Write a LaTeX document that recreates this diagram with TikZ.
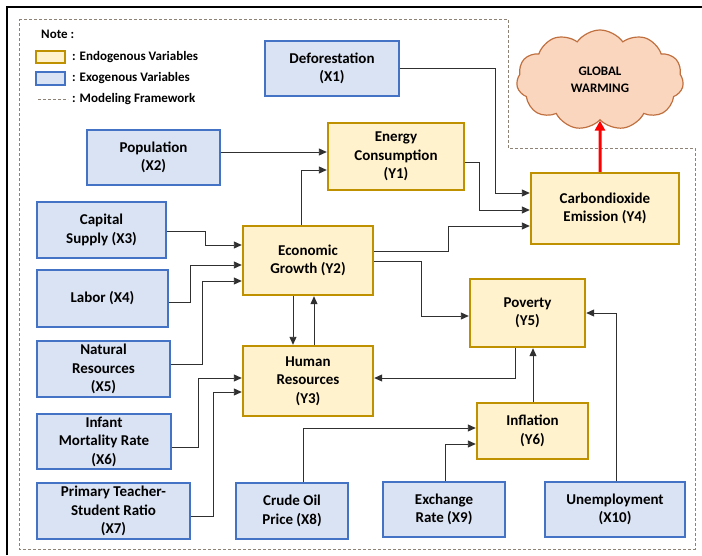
\documentclass[tikz,border=0pt]{standalone}
\usepackage{fontspec}
\setmainfont{Carlito}
\usetikzlibrary{arrows.meta,shapes.symbols}
\definecolor{endofill}{HTML}{FFF2CC}
\definecolor{endodraw}{HTML}{BF9000}
\definecolor{exofill}{HTML}{DAE3F3}
\definecolor{exodraw}{HTML}{4472C4}
\definecolor{cloudfill}{HTML}{FAD6BF}
\definecolor{clouddraw}{HTML}{C0703F}
\definecolor{framecol}{HTML}{8C8275}
\definecolor{linecol}{HTML}{303030}
\begin{document}
\begin{tikzpicture}[x=1pt,y=-1pt,
  every node/.style={font=\bfseries\fontsize{15}{18.5}\selectfont,align=center,inner sep=1pt},
  endo/.style={draw=endodraw,fill=endofill,line width=2.4pt},
  exo/.style={draw=exodraw,fill=exofill,line width=1.4pt},
  arr/.style={draw=linecol,line width=0.9pt,-{Triangle[length=8pt,width=7pt]}},
  frame/.style={draw=framecol,line width=0.9pt,dash pattern=on 3pt off 2pt},
  legtext/.style={font=\bfseries\fontsize{13}{15}\selectfont,anchor=west}]
  \useasboundingbox (0,0) rectangle (702,555);
  \draw[line width=2pt] (7,555) -- (7,7) -- (702,7);
  \draw[frame] (19,19) -- (508,19) -- (508,148) -- (695,148) -- (695,549) -- (19,549) -- cycle;
  % legend
  \node[legtext] (note) at (40,34) {Note :};
  \draw[endo,line width=2pt] (36,51) rectangle (65,63);
  \draw[exo] (36,72) rectangle (65,85);
  \draw[frame] (38,99) -- (68,99);
  \node[legtext] (lgendo) at (71,57) {: Endogenous Variables};
  \node[legtext] (lgexo) at (71,78) {: Exogenous Variables};
  \node[legtext] (lgframe) at (71,99) {: Modeling Framework};
  % exogenous
  \node[exo,minimum width=134,minimum height=55] (x1) at (332,68.5) {Deforestation\\(X1)};
  \node[exo,minimum width=133,minimum height=55] (x2) at (153.5,157.5) {Population\\(X2)};
  \node[exo,minimum width=129,minimum height=56] (x3) at (101.5,230) {Capital\\Supply (X3)};
  \node[exo,minimum width=131,minimum height=57] (x4) at (102.5,298.5) {Labor (X4)};
  \node[exo,minimum width=133,minimum height=56] (x5) at (103.5,369) {Natural\\Resources\\(X5)};
  \node[exo,minimum width=134,minimum height=55] (x6) at (104,441.5) {Infant\\Mortality Rate\\(X6)};
  \node[exo,minimum width=153,minimum height=56] (x7) at (113.5,511) {Primary Teacher-\\Student Ratio\\(X7)};
  \node[exo,minimum width=112,minimum height=56] (x8) at (292,511) {Crude Oil\\Price (X8)};
  \node[exo,minimum width=122,minimum height=55] (x9) at (444,509.5) {Exchange\\Rate (X9)};
  \node[exo,minimum width=140,minimum height=55] (x10) at (615,509.5) {Unemployment\\(X10)};
  % endogenous
  \node[endo,minimum width=136,minimum height=67] (y1) at (396,156.5) {Energy\\Consumption\\(Y1)};
  \node[endo,minimum width=130,minimum height=69] (y2) at (308,260.5) {Economic\\Growth (Y2)};
  \node[endo,minimum width=130,minimum height=70] (y3) at (308,381) {Human\\Resources\\(Y3)};
  \node[endo,minimum width=148,minimum height=71] (y4) at (605,208.5) {Carbondioxide\\Emission (Y4)};
  \node[endo,minimum width=115,minimum height=68] (y5) at (527.5,313) {Poverty\\(Y5)};
  \node[endo,minimum width=111,minimum height=56] (y6) at (532.5,431) {Inflation\\(Y6)};
  \node[cloud,cloud puffs=11,cloud puff arc=110,cloud ignores aspect,draw=clouddraw,fill=cloudfill,
    line width=1.2pt,minimum width=167,minimum height=100,font=\bfseries\fontsize{13}{17}\selectfont]
    (glob) at (600,80) {GLOBAL\\WARMING};
  % connectors
  \draw[arr] (x1.east) -| (495,193) -- (y4.west |- 0,193);
  \draw[arr] (y1.east |- 0,162) -| (479,210) -- (y4.west |- 0,210);
  \draw[arr] (y2.east |- 0,251) -| (448,226) -- (y4.west |- 0,226);
  \draw[arr] (x2.east |- 0,152) -- (y1.west |- 0,152);
  \draw[arr] (y2.north -| 301,0) |- (y1.west |- 0,170);
  \draw[arr] (x3.east |- 0,231) -| (205,245) -- (y2.west |- 0,245);
  \draw[arr] (x4.east |- 0,302) -| (190,265) -- (y2.west |- 0,265);
  \draw[arr] (x5.east |- 0,364) -| (202,281) -- (y2.west |- 0,281);
  \draw[arr] (y2.south -| 293,0) -- (y3.north -| 293,0);
  \draw[arr] (y3.north -| 314,0) -- (y2.south -| 314,0);
  \draw[arr] (x6.east |- 0,447) -| (198,378) -- (y3.west |- 0,378);
  \draw[arr] (x7.east |- 0,516) -| (213,392) -- (y3.west |- 0,392);
  \draw[arr] (x8.north -| 303,0) |- (y6.west |- 0,428);
  \draw[arr] (x9.north -| 445,0) |- (y6.west |- 0,444);
  \draw[arr] (y6.north -| 533,0) -- (y5.south -| 533,0);
  \draw[arr] (y5.south -| 515,0) |- (y3.east |- 0,378);
  \draw[arr] (x10.north -| 616,0) |- (y5.east |- 0,313);
  \draw[arr] (y2.east |- 0,261) -| (421,316) -- (y5.west |- 0,316);
  \draw[red,line width=3pt,-{Triangle[length=10pt,width=10pt]}] (y4.north -| 600,0) -- (glob.south);
\end{tikzpicture}
\end{document}
